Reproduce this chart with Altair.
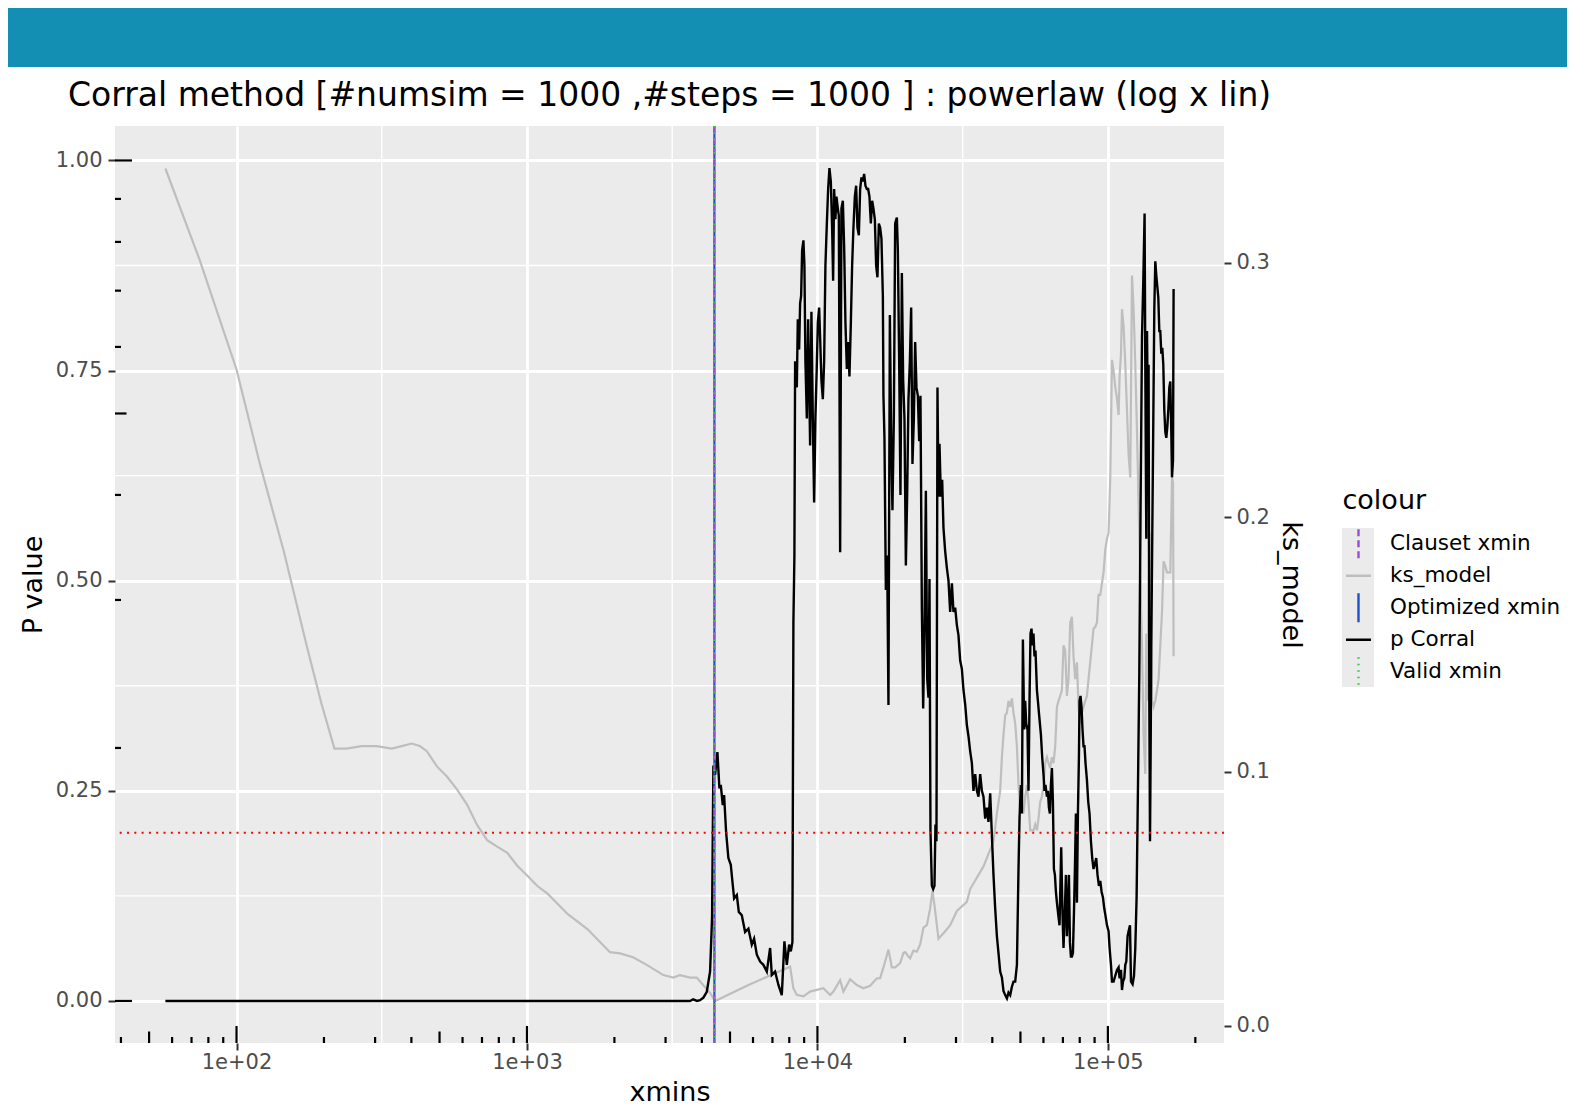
import altair as alt
import pandas as pd

# ---------------- data ----------------
p_xmins = [56.9, 3643, 3731, 3851, 3944, 4049, 4160, 4270, 4338, 4383, 4443, 4525, 4598, 4648, 4722, 4771,
           4848, 4937, 5032, 5084, 5166, 5278, 5362, 5491, 5636, 5786, 5944, 6053, 6185, 6348, 6516, 6695,
           6872, 6965, 7150, 7340, 7540, 7697, 7846, 7990, 8098, 8201, 8266, 8332, 8379, 8493, 8560, 8650,
           8718, 8788, 8857, 8949, 9020, 9092, 9195, 9290, 9364, 9437, 9535, 9642, 9742, 9842, 9953, 10032,
           10136, 10216, 10322, 10438, 10546, 10654, 10775, 10886, 11000, 11121, 11236, 11326, 11416, 11533,
           11626, 11756, 11850, 11972, 12097, 12232, 12359, 12486, 12627, 12757, 12890, 13033, 13167, 13303,
           13452, 13592, 13734, 13887, 14030, 14176, 14334, 14483, 14632, 14797, 14950, 15106, 15272, 15430,
           15589, 15764, 15928, 16094, 16273, 16441, 16612, 16798, 16877, 17012, 17202, 17381, 17561, 17758,
           17940, 18125, 18328, 18519, 18772, 18919, 19117, 19313, 19529, 19731, 19936, 20159, 20369, 20579,
           20810, 21024, 21241, 21479, 21702, 21927, 22171, 22403, 22633, 22886, 23123, 23362, 23624, 23871,
           24117, 24311, 24501, 24774, 25031, 25290, 25491, 25696, 25901, 26107, 26317, 26608, 26883, 27161,
           27532, 27907, 28262, 28644, 29034, 29403, 29804, 30211, 30595, 31007, 31429, 31829, 32263, 32703,
           33119, 33566, 34022, 34456, 34925, 35402, 35852, 36337, 36831, 37300, 37809, 38325, 38812, 39335,
           39870, 40377, 40928, 41487, 42014, 42582, 43161, 43710, 44307, 44911, 45482, 46097, 46724, 47319,
           47964, 48619, 49236, 49633, 50179, 50579, 50983, 51512, 51921, 52335, 52879, 53298, 53727, 54149,
           54581, 55013, 55450, 55893, 56336, 56974, 57422, 57881, 58346, 58805, 59414, 60028, 60507, 60987,
           61677, 62162, 62659, 63162, 63657, 64164, 64677, 65189, 65709, 66234, 66766, 67456, 68159, 69076,
           69789, 70344, 71132, 71701, 72277, 72845, 73428, 74017, 74600, 75194, 75795, 76396, 77004, 77620,
           78243, 78859, 79489, 79875, 80498, 81140, 81783, 82433, 83092, 83750, 84698, 85573, 86464, 87421,
           88325, 89238, 90237, 91176, 92124, 93150, 94148, 95127, 96191, 97189, 97961, 99298, 100560, 101369,
           102490, 103305, 104620, 106047, 107494, 108860, 109736, 110950, 111833, 112726, 113896, 114800,
           115716, 116919, 117846, 119170, 120108, 121637, 122998, 124276, 125566, 126964, 128290, 129607,
           131055, 132413, 133784, 134533, 135607, 136370, 137443, 138102, 138878, 139654, 140305, 141089,
           142208, 143342, 144490, 145638, 146800, 147975, 149151, 150341, 151523, 152735, 153947, 155175,
           156417, 157660, 158917, 160190, 161463, 162751, 164026, 165338, 166257, 167585, 168373]
p_corral = [0, 0, 0.002, 0, 0.001, 0.004, 0.011, 0.035, 0.10, 0.28, 0.269, 0.296, 0.253, 0.257, 0.233, 0.245,
            0.201, 0.170, 0.162, 0.146, 0.122, 0.126, 0.106, 0.102, 0.082, 0.086, 0.067, 0.074, 0.055, 0.047,
            0.043, 0.035, 0.063, 0.031, 0.035, 0.019, 0.007, 0.071, 0.043, 0.067, 0.059, 0.07, 0.45, 0.53,
            0.761, 0.730, 0.811, 0.775, 0.830, 0.839, 0.893, 0.905, 0.875, 0.761, 0.693, 0.811, 0.739, 0.661,
            0.820, 0.693, 0.593, 0.693, 0.757, 0.807, 0.825, 0.789, 0.739, 0.716, 0.761, 0.875, 0.925, 0.966,
            0.991, 0.975, 0.920, 0.857, 0.966, 0.930, 0.957, 0.943, 0.934, 0.534, 0.943, 0.952, 0.898, 0.807,
            0.752, 0.784, 0.743, 0.807, 0.875, 0.920, 0.957, 0.970, 0.920, 0.911, 0.966, 0.980, 0.975, 0.984,
            0.970, 0.966, 0.966, 0.957, 0.925, 0.952, 0.943, 0.930, 0.875, 0.861, 0.925, 0.920, 0.907, 0.839,
            0.720, 0.670, 0.489, 0.530, 0.352, 0.816, 0.670, 0.584, 0.693, 0.925, 0.932, 0.893, 0.761, 0.602,
            0.866, 0.739, 0.693, 0.518, 0.602, 0.716, 0.761, 0.825, 0.639, 0.693, 0.784, 0.730, 0.720, 0.666,
            0.720, 0.466, 0.348, 0.443, 0.607, 0.384, 0.361, 0.502, 0.203, 0.137, 0.133, 0.137, 0.21, 0.19,
            0.73, 0.60, 0.663, 0.60, 0.62, 0.563, 0.535, 0.515, 0.50, 0.463, 0.497, 0.463, 0.468, 0.447, 0.435,
            0.405, 0.395, 0.37, 0.353, 0.328, 0.315, 0.297, 0.283, 0.25, 0.27, 0.25, 0.243, 0.27, 0.25, 0.243,
            0.217, 0.23, 0.213, 0.247, 0.197, 0.15, 0.11, 0.077, 0.057, 0.035, 0.028, 0.012, 0.007, 0.003,
            0.01, 0.007, 0.017, 0.023, 0.023, 0.043, 0.157, 0.217, 0.257, 0.223, 0.43, 0.323, 0.357, 0.33,
            0.323, 0.25, 0.357, 0.437, 0.443, 0.423, 0.437, 0.41, 0.417, 0.37, 0.357, 0.343, 0.33, 0.317, 0.29,
            0.27, 0.25, 0.257, 0.243, 0.25, 0.23, 0.223, 0.257, 0.277, 0.237, 0.157, 0.15, 0.13, 0.117, 0.103,
            0.09, 0.183, 0.103, 0.063, 0.11, 0.15, 0.077, 0.103, 0.15, 0.07, 0.053, 0.053, 0.057, 0.103, 0.157,
            0.223, 0.117, 0.223, 0.29, 0.357, 0.363, 0.35, 0.323, 0.303, 0.303, 0.283, 0.263, 0.237, 0.223,
            0.19, 0.17, 0.157, 0.163, 0.17, 0.15, 0.137, 0.143, 0.13, 0.123, 0.11, 0.103, 0.09, 0.083, 0.063,
            0.043, 0.023, 0.023, 0.03, 0.037, 0.04, 0.027, 0.037, 0.013, 0.023, 0.027, 0.043, 0.047, 0.077,
            0.083, 0.09, 0.023, 0.02, 0.03, 0.063, 0.123, 0.257, 0.39, 0.59, 0.79, 0.857, 0.937, 0.757, 0.55,
            0.797, 0.677, 0.757, 0.357, 0.19, 0.29, 0.423, 0.557, 0.69, 0.823, 0.88, 0.863, 0.85, 0.837, 0.797,
            0.797, 0.77, 0.777, 0.757, 0.703, 0.677, 0.67, 0.683, 0.703, 0.73, 0.737, 0.677, 0.623, 0.643, 0.847]

ks_xmins = [56.9, 74.7, 100, 120.3, 145.9, 173.9, 195.7, 217.3, 239.1, 269.3, 303.5, 342.2, 370.5, 401.1,
            427.6, 452.1, 489.8, 530.2, 574.1, 621.9, 673.2, 729.3, 789.6, 855.4, 926.1, 1003, 1086, 1177,
            1274, 1379, 1494, 1618, 1784, 1931, 2091, 2318, 2585, 2948, 3192, 3366, 3643, 3842, 4049, 4270,
            4443, 5864, 8053, 8266, 8493, 8949, 9437, 9953, 10487, 11059, 11352, 11972, 12289, 12960, 13669,
            14402, 15187, 16018, 16441, 16877, 17561, 18040, 18519, 19267, 19778, 20047, 20579, 20857, 21410,
            21998, 22579, 23177, 23814, 24442, 24892, 25290, 25635, 26107, 27532, 28644, 30211, 32703, 33566,
            37300, 39335, 40377, 41487, 42582, 43161, 43710, 44307, 44911, 45482, 46097, 46724, 47319, 47964,
            48619, 49236, 49900, 50579, 51222, 51921, 52630, 53298, 54019, 54754, 55450, 56207, 56974, 57698,
            58478, 59273, 60028, 60846, 61677, 62460, 63303, 64164, 64981, 65867, 66766, 67614, 68528, 69460,
            70344, 71303, 72277, 73195, 74185, 75194, 76151, 77189, 78243, 79237, 80305, 81397, 82433, 83557,
            84698, 85774, 86934, 88116, 89238, 90455, 91689, 92854, 94148, 95428, 96643, 97961, 99298, 100560,
            101919, 103305, 104620, 106047, 107494, 108860, 109736, 110950, 111833, 113256, 114800, 116367,
            117846, 119439, 121063, 122604, 124276, 125972, 127573, 129297, 131055, 132723, 134533, 135607,
            136693, 138102, 139214, 140305, 141873, 143678, 145638, 147625, 149501, 151523, 153584, 155538,
            157660, 159811, 161842, 164026, 166257, 167585, 168373]
ks_model = [0.337, 0.301, 0.258, 0.221, 0.186, 0.150, 0.127, 0.109, 0.109, 0.110, 0.110, 0.109, 0.110, 0.111,
            0.110, 0.108, 0.102, 0.098, 0.093, 0.087, 0.079, 0.073, 0.0705, 0.068, 0.063, 0.059, 0.055, 0.052,
            0.048, 0.044, 0.041, 0.038, 0.033, 0.029, 0.0285, 0.027, 0.024, 0.020, 0.019, 0.020, 0.019, 0.019,
            0.016, 0.013, 0.0098, 0.0164, 0.0233, 0.0148, 0.0122, 0.0116, 0.0135, 0.0142, 0.0148, 0.0122,
            0.0135, 0.018, 0.0135, 0.0184, 0.0161, 0.0148, 0.0158, 0.0187, 0.0188, 0.0230, 0.0300, 0.0230,
            0.0230, 0.0247, 0.0287, 0.0290, 0.0273, 0.0266, 0.0296, 0.0292, 0.0320, 0.0386, 0.0396, 0.0462,
            0.0531, 0.0475, 0.0419, 0.0343, 0.0372, 0.0396, 0.0452, 0.0488, 0.0538, 0.0627, 0.0693, 0.0726,
            0.0835, 0.0924, 0.1056, 0.1145, 0.1221, 0.1231, 0.1278, 0.1254, 0.1287, 0.1231, 0.1188, 0.1099,
            0.0947, 0.0835, 0.0858, 0.0835, 0.0901, 0.0947, 0.0881, 0.0769, 0.0769, 0.0769, 0.0792, 0.0769,
            0.0815, 0.0881, 0.0901, 0.0947, 0.1033, 0.1056, 0.1033, 0.1013, 0.1056, 0.1033, 0.1099, 0.1254,
            0.1278, 0.1297, 0.1320, 0.1496, 0.1476, 0.1297, 0.1363, 0.1585, 0.1608, 0.1453, 0.1363, 0.1429,
            0.1254, 0.1188, 0.1231, 0.1254, 0.1278, 0.1297, 0.1363, 0.1429, 0.1496, 0.1562, 0.1568, 0.1585,
            0.1694, 0.1694, 0.1740, 0.1783, 0.1872, 0.1915, 0.1938, 0.2156, 0.2618, 0.2576, 0.2510, 0.2467,
            0.2401, 0.2553, 0.2642, 0.2817, 0.2751, 0.2599, 0.2420, 0.2245, 0.2156, 0.2949, 0.2817, 0.2599,
            0.2334, 0.2047, 0.1760, 0.1496, 0.1145, 0.0990, 0.1542, 0.1278, 0.1674, 0.1938, 0.1562, 0.1278,
            0.1254, 0.1278, 0.1320, 0.1363, 0.1496, 0.1628, 0.1826, 0.1806, 0.1783, 0.1783, 0.1783, 0.2156,
            0.2136, 0.1453]

xmin_value = 4418          # Clauset / Optimized / Valid xmin (all coincide)
p_threshold = 0.2

series_names = ["Clauset xmin", "ks_model", "Optimized xmin", "p Corral", "Valid xmin"]
series_colors = ["#9350d4", "#bebebe", "#2350c8", "#000000", "#3cc83c"]

title_text = "Corral method [#numsim = 1000 ,#steps = 1000 ] : powerlaw (log x lin)"
x_tick_values = [100, 1000, 10000, 100000]
p_tick_values = [0, 0.25, 0.5, 0.75, 1.0]
ks_tick_values = [0, 0.1, 0.2, 0.3]
x_minor_grid = [316.23, 3162.3, 31623]
p_minor_grid = [0.125, 0.375, 0.625, 0.875]
x_log_long = [100, 1000, 10000, 100000]
x_log_mid = [50, 500, 5000, 50000]
x_log_short = [40, 60, 70, 80, 90, 200, 300, 400, 600, 700, 800, 900, 2000, 3000, 4000, 6000, 7000,
               8000, 9000, 20000, 30000, 40000, 60000, 70000, 80000, 90000, 200000]
y_log_long = [0.0, 1.0]
y_log_mid = [0.69897]
y_log_short = [0.30103, 0.47712, 0.60206, 0.77815, 0.84510, 0.90309, 0.95424]

# ---------------- styling ----------------
FONT = "DejaVu Sans"
W, H = 1109, 917
XDOM = [38.16, 251070]
PDOM = [-0.050, 1.041]
KSDOM = [-0.0067, 0.3537]

xscale = alt.Scale(type="log", domain=XDOM, nice=False)
pscale = alt.Scale(domain=PDOM, nice=False, zero=False)
ksscale = alt.Scale(domain=KSDOM, nice=False, zero=False)

common_axis = dict(domain=False, tickSize=7, tickWidth=2, tickColor="#333333",
                   labelFont=FONT, labelFontSize=21, labelColor="#4d4d4d",
                   labelFlush=False, labelOverlap=False,
                   titleFont=FONT, titleFontSize=27, titleFontWeight="normal", titleColor="black")

x_axis = alt.Axis(title="xmins", values=x_tick_values,
                  labelExpr="'1e+0' + round(log(datum.value) / LN10)",
                  grid=True, gridColor="white", gridWidth=2.8, labelPadding=1,
                  titleX=W / 2, titleY=57, titleBaseline="alphabetic", titleAlign="center",
                  **common_axis)
p_axis = alt.Axis(title="P value", orient="left", values=p_tick_values, format=".2f",
                  grid=True, gridColor="white", gridWidth=2.8, labelPadding=6,
                  titleX=-81.5, titleY=H / 2, titleAngle=270, titleBaseline="middle",
                  titleAlign="center", **common_axis)
ks_axis = alt.Axis(title="ks_model", orient="right", values=ks_tick_values, format=".1f",
                   grid=False, labelPadding=5,
                   titleX=66, titleY=H / 2, titleAngle=90, titleBaseline="middle",
                   titleAlign="center", **common_axis)

X = lambda f: alt.X(f, type="quantitative", scale=xscale, axis=x_axis)
YP = lambda f: alt.Y(f, type="quantitative", scale=pscale, axis=p_axis)
YP0 = lambda f: alt.Y(f, type="quantitative", scale=pscale, axis=None)

p_df = pd.DataFrame({"xmins": p_xmins, "p": p_corral})
ks_df = pd.DataFrame({"xmins": ks_xmins, "ks": ks_model})

# ---- group A: panel decorations on the P-value scale (with left axis) ----
minor_y = alt.Chart(pd.DataFrame({"v": p_minor_grid})).mark_rule(color="white", strokeWidth=1.4).encode(y=YP("v"))
minor_x = alt.Chart(pd.DataFrame({"xmins": x_minor_grid})).mark_rule(color="white", strokeWidth=1.4).encode(x=X("xmins"))

def ylog(vals, length):
    return alt.Chart(pd.DataFrame({"v": vals})).mark_rule(color="black", strokeWidth=2.2).encode(
        y=YP("v"), x=alt.value(0), x2=alt.value(length))

def xlog(vals, length):
    return alt.Chart(pd.DataFrame({"xmins": vals})).mark_rule(color="black", strokeWidth=2.2).encode(
        x=X("xmins"), y=alt.value(H), y2=alt.value(H - length))

groupA = alt.layer(minor_y, minor_x,
                   ylog(y_log_short, 6), ylog(y_log_mid, 11.5), ylog(y_log_long, 17),
                   xlog(x_log_short, 6), xlog(x_log_mid, 11.5), xlog(x_log_long, 17))

# ---- ks_model line on its own (secondary) scale ----
gray = alt.Chart(ks_df).mark_line(color="#bebebe", strokeWidth=2.2).encode(
    x=X("xmins"), y=alt.Y("ks", type="quantitative", scale=ksscale, axis=ks_axis))

# ---- group B: p Corral, reference lines, legend, frame ----
black = alt.Chart(p_df).mark_line(color="black", strokeWidth=2.4).encode(x=X("xmins"), y=YP0("p"))
hline = alt.Chart(pd.DataFrame({"y": [p_threshold]})).mark_rule(
    color="#ff0000", strokeWidth=2, strokeDash=[2, 5.3]).encode(y=YP0("y"))
vdf = pd.DataFrame({"xmins": [xmin_value]})
v_opt = alt.Chart(vdf).mark_rule(color=series_colors[2], strokeWidth=2.2).encode(x=X("xmins"))
v_cla = alt.Chart(vdf).mark_rule(color=series_colors[0], strokeWidth=2, strokeDash=[7, 4]).encode(x=X("xmins"))
v_val = alt.Chart(vdf).mark_rule(color=series_colors[4], strokeWidth=2, strokeDash=[1.5, 5]).encode(x=X("xmins"))

vert = "M0,-1L0,1"
horiz = "M-0.86,0L0.86,0M0,-1L0,-1M0,1L0,1"
LEG = alt.Legend(title="colour", orient="none", legendX=1227.5, legendY=362, padding=0,
                 symbolSize=841, symbolStrokeWidth=2.4, symbolOffset=0, clipHeight=31.6,
                 labelFont=FONT, labelFontSize=21.5, labelColor="black", labelOffset=15.5, labelLimit=400,
                 titleFont=FONT, titleFontSize=27, titleFontWeight="normal", titleColor="black",
                 titlePadding=13, rowPadding=0)
legend_df = pd.DataFrame({"series": series_names, "xmins": [1000] * 5, "p": [-5] * 5})
legend_layer = alt.Chart(legend_df).mark_point(filled=False, clip=True, opacity=1, strokeWidth=2.4).encode(
    x=X("xmins"), y=YP0("p"),
    color=alt.Color("series:N", scale=alt.Scale(domain=series_names, range=series_colors), legend=LEG),
    shape=alt.Shape("series:N", scale=alt.Scale(domain=series_names, range=[vert, horiz, vert, horiz, vert]), legend=LEG),
    strokeDash=alt.StrokeDash("series:N", scale=alt.Scale(domain=series_names,
                              range=[[7, 4], [1, 0], [1, 0], [1, 0], [1.5, 5]]), legend=LEG),
)

one = pd.DataFrame({"t": [title_text]})
banner = alt.Chart(one).mark_rect(color="#128fb2").encode(
    x=alt.value(-107), x2=alt.value(1452), y=alt.value(-118), y2=alt.value(-59))
key_bg = alt.Chart(one).mark_rect(color="#ebebeb").encode(
    x=alt.value(1227), x2=alt.value(1259), y=alt.value(402), y2=alt.value(561))
title = alt.Chart(one).mark_text(align="left", baseline="alphabetic", font=FONT, fontSize=33,
                                 color="black").encode(text="t:N", x=alt.value(-47), y=alt.value(-20.5))

groupB = alt.layer(black, hline, v_opt, v_cla, v_val, legend_layer, key_bg, banner, title)

chart = (alt.layer(groupA, gray, groupB)
         .resolve_scale(y="independent")
         .properties(width=W, height=H, padding=0, background="white")
         .configure(font=FONT)
         .configure_view(fill="#ebebeb", stroke="#ebebeb", strokeWidth=0))

chart.save("out.html", embed_options={"renderer": "svg", "actions": False})
